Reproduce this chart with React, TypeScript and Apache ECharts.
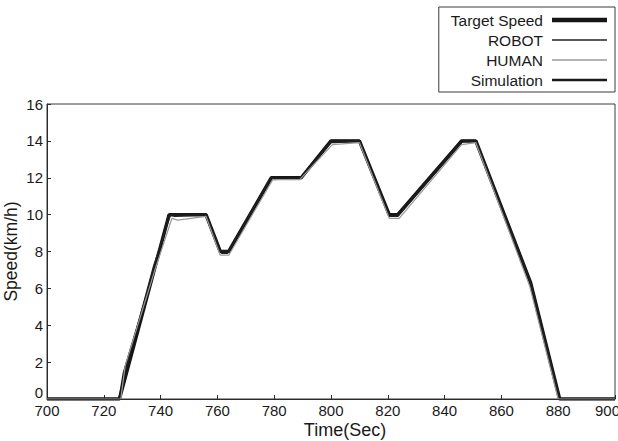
import React, { useEffect, useRef } from "react";
import * as echarts from "echarts";

const xTicks = [700, 720, 740, 760, 780, 800, 820, 840, 860, 880, 900];
const yTicks = [0, 2, 4, 6, 8, 10, 12, 14, 16];

const targetTime = [700, 725.5, 743, 756, 761, 764, 779, 789.5, 800, 810, 820.5, 823.5, 846, 851, 870.3, 880.5, 900];
const targetSpeed = [0, 0, 10, 10, 8, 8, 12, 12, 14, 14, 10, 10, 14, 14, 6.3, 0, 0];

const robotTime = [700, 725.8, 727, 737.5, 743.5, 745, 756, 761.5, 763.5, 779, 780, 789.5, 800, 801.5, 810, 820.5, 823.5, 846, 847, 851, 870.5, 880.5, 900];
const robotSpeed = [0, 0, 1.2, 7.2, 10, 9.9, 10, 7.9, 7.9, 12, 11.9, 12, 13.9, 13.9, 14, 9.9, 9.9, 13.9, 14, 14, 6.2, 0, 0];

const humanTime = [700, 726, 727.5, 738, 744, 746, 756, 761, 764, 779.5, 789, 800.5, 810, 820.5, 824, 846, 851, 870, 880, 900];
const humanSpeed = [0, 0, 1.8, 7.0, 9.8, 9.7, 9.9, 7.8, 7.8, 11.9, 11.9, 13.8, 13.9, 9.8, 9.8, 13.8, 13.9, 6.1, 0, 0];

const simTime = [700, 725.5, 727, 738, 743, 756, 761, 764, 779, 789.5, 800, 810, 820.5, 823.5, 846, 851, 870.3, 880.5, 900];
const simSpeed = [0, 0, 1.4, 7.1, 10, 10, 8, 8, 12, 12, 14, 14, 10, 10, 14, 14, 6.3, 0, 0];

const legendNames = ["Target Speed", "ROBOT", "HUMAN", "Simulation"];

const zip = (t: number[], v: number[]) => t.map((x, i) => [x, v[i]]);

const FONT = "'Liberation Sans', Arial, sans-serif";

const lineIcon = (h: number) => `path://M0,0H55V${h}H0Z`;

export default function App() {
  const ref = useRef<HTMLDivElement>(null);
  useEffect(() => {
    if (!ref.current) return;
    const chart = echarts.init(ref.current, undefined, { renderer: "svg" });
    chart.setOption({
      animation: false,
      textStyle: { fontFamily: FONT },
      grid: {
        left: 47,
        right: 3,
        top: 104,
        bottom: 42,
        outerBoundsMode: "none",
        containLabel: false,
        show: true,
        borderColor: "#3a3a3a",
        borderWidth: 1,
      },
      legend: {
        orient: "vertical",
        right: 3,
        top: 7,
        align: "right",
        itemWidth: 55,
        itemHeight: 14,
        itemGap: 4,
        padding: [5, 8, 4, 12],
        borderColor: "#3a3a3a",
        borderWidth: 1,
        symbolKeepAspect: true,
        textStyle: { fontSize: 15.5, color: "#1a1a1a", fontFamily: FONT, padding: [0, 4, 0, 0] },
        data: [
          { name: legendNames[0], icon: lineIcon(4.5) },
          { name: legendNames[1], icon: lineIcon(1.6) },
          { name: legendNames[2], icon: lineIcon(1.4) },
          { name: legendNames[3], icon: lineIcon(2.6) },
        ],
      },
      xAxis: {
        type: "value",
        min: xTicks[0],
        max: xTicks[xTicks.length - 1],
        interval: 20,
        name: "Time(Sec)",
        nameLocation: "middle",
        nameGap: 22,
        nameMoveOverlap: false,
        nameTextStyle: { fontSize: 18, color: "#1a1a1a", padding: [0, 0, 0, 28] },
        axisLine: { lineStyle: { color: "#2a2a2a", width: 1 } },
        axisTick: { inside: true, length: 4, lineStyle: { color: "#2a2a2a" } },
        axisLabel: {
          fontSize: 15,
          color: "#1a1a1a",
          margin: 4,
          showMaxLabel: true,
          formatter: (v: number) => (v === 900 ? "{m|900}" : String(v)),
          rich: { m: { fontSize: 15, color: "#1a1a1a", padding: [0, 15, 0, 0] } },
        },
        splitLine: { show: false },
      },
      yAxis: {
        type: "value",
        min: yTicks[0],
        max: yTicks[yTicks.length - 1],
        interval: 2,
        name: "Speed(km/h)",
        nameLocation: "middle",
        nameGap: 27,
        nameMoveOverlap: false,
        nameTextStyle: { fontSize: 17.5, color: "#1a1a1a" },
        axisLine: { lineStyle: { color: "#2a2a2a", width: 1 } },
        axisTick: { inside: true, length: 4, lineStyle: { color: "#2a2a2a" } },
        axisLabel: {
          fontSize: 15,
          color: "#1a1a1a",
          margin: 4,
          formatter: (v: number) => (v === 0 ? "{z|0}" : String(v)),
          rich: { z: { fontSize: 15, color: "#1a1a1a", padding: [0, 0, 14, 0] } },
        },
        splitLine: { show: false },
      },
      series: [
        {
          name: "Target Speed",
          type: "line",
          data: zip(targetTime, targetSpeed),
          symbol: "none",
          lineStyle: { color: "#151515", width: 3.5 },
          itemStyle: { color: "#151515" },
          z: 1,
        },
        {
          name: "ROBOT",
          type: "line",
          data: zip(robotTime, robotSpeed),
          symbol: "none",
          lineStyle: { color: "#202020", width: 1.3 },
          itemStyle: { color: "#202020" },
          z: 3,
        },
        {
          name: "HUMAN",
          type: "line",
          data: zip(humanTime, humanSpeed),
          symbol: "none",
          lineStyle: { color: "#9a9a9a", width: 1.2 },
          itemStyle: { color: "#9a9a9a" },
          z: 4,
        },
        {
          name: "Simulation",
          type: "line",
          data: zip(simTime, simSpeed),
          symbol: "none",
          lineStyle: { color: "#1a1a1a", width: 2.2 },
          itemStyle: { color: "#1a1a1a" },
          z: 2,
        },
      ],
    });
    return () => chart.dispose();
  }, []);
  return (
    <div
      ref={ref}
      style={{ position: "absolute", left: 0, top: 0, width: 618, height: 441, background: "#fff" }}
    />
  );
}
